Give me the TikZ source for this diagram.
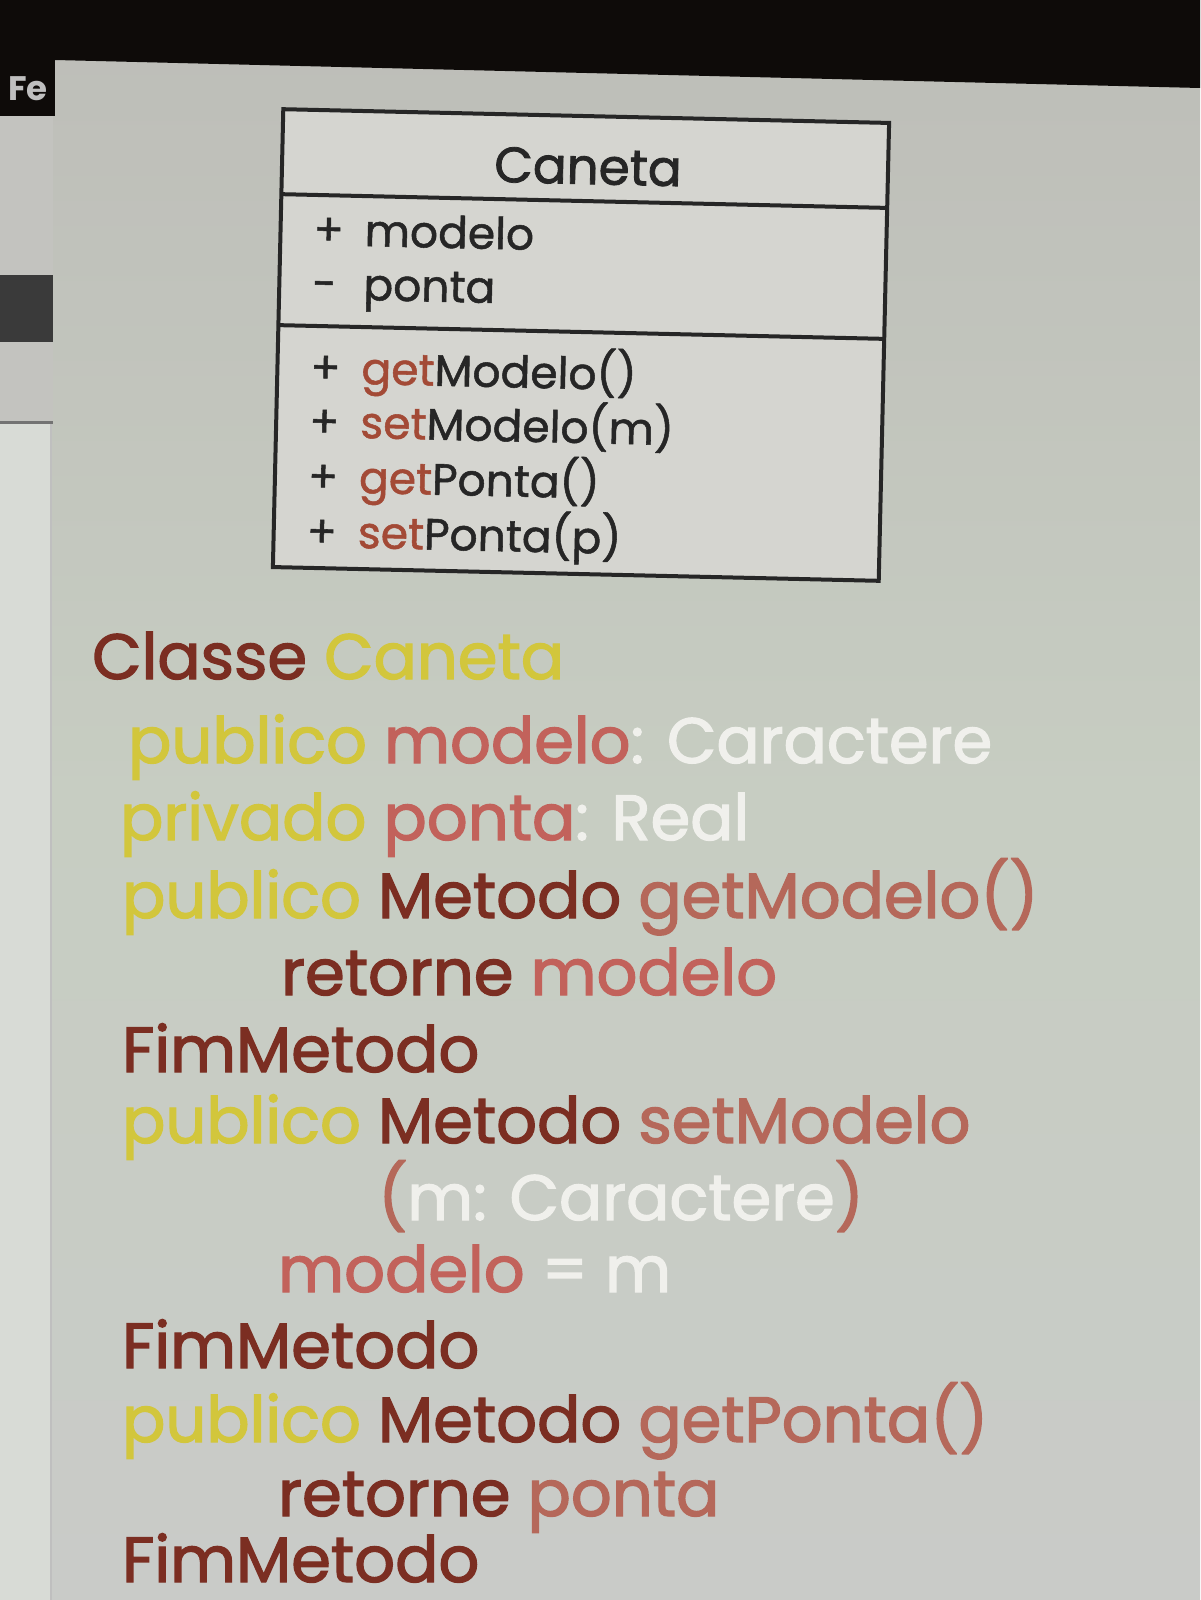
\documentclass[tikz,border=0pt]{standalone}
\usepackage{fontspec}
\setmainfont{Poppins}
\newfontfamily\umlfont{Poppins}[FakeBold=1.2]
\newfontfamily\umltitlefont{Poppins}[FakeBold=1.6]
\newfontfamily\codefont{Poppins}[FakeBold=2]
\definecolor{topband}{HTML}{0E0B09}
\definecolor{scrtop}{HTML}{BDBDB8}
\definecolor{scrmid}{HTML}{C7CDC2}
\definecolor{scrbot}{HTML}{C9CBC8}
\definecolor{umlfill}{HTML}{D5D5D0}
\definecolor{sideA}{HTML}{C3C3BF}
\definecolor{sideB}{HTML}{D8DBD6}
\definecolor{darkbar}{HTML}{3A3A3A}
\definecolor{umldark}{HTML}{262626}
\definecolor{umlred}{HTML}{A34A36}
\definecolor{kw}{HTML}{7B2E22}
\definecolor{yel}{HTML}{D2C63C}
\definecolor{var}{HTML}{C2625B}
\definecolor{meth}{HTML}{B5685A}
\definecolor{wht}{HTML}{F0F0EC}
\tikzset{
  umltxt/.style={anchor=base west, inner sep=0pt, transform shape, text=umldark,
    font=\umlfont\fontsize{44}{44}\selectfont},
  umltitle/.style={anchor=base, inner sep=0pt, transform shape, text=umldark,
    font=\umltitlefont\fontsize{50}{50}\selectfont},
  codetxt/.style={anchor=base west, inner sep=0pt, font=\codefont\fontsize{64}{64}\selectfont},
  umlline/.style={line width=4pt, draw=umldark}
}
\newcommand{\sg}[1]{\makebox[51pt][l]{#1}}
\begin{document}
\begin{tikzpicture}[x=1pt,y=-1pt]
\useasboundingbox (0,0) rectangle (1200,1600);
% screen background
\shade[top color=scrtop, bottom color=scrbot, middle color=scrmid] (0,0) rectangle (1200,1600);
% top dark band
\fill[topband] (0,0) -- (1200,0) -- (1200,88) -- (55,60) -- (0,60) -- cycle;
% sidebar
\fill[sideA] (0,60) rectangle (53,422);
\fill[sideB] (0,424) rectangle (50,1600);
\draw[line width=3pt, draw=black!55] (0,422) -- (53,422);
\draw[line width=2pt, draw=black!25] (51,424) -- (51,1600);
\fill[topband] (0,60) rectangle (55,116);
\node[anchor=base west, inner sep=0pt, text=black!25, font=\fontsize{34}{34}\selectfont\bfseries] (fe) at (8,101) {Fe};
\fill[darkbar] (0,275) rectangle (53,342);
% UML class box
\begin{scope}[rotate around={-1.3:(581,345)}]
  \node[umlline, fill=umlfill, minimum width=606pt, minimum height=458pt, inner sep=0pt, transform shape] (box) at (581,345) {};
  \coordinate (d1l) at (278,201); \coordinate (d1r) at (884,201);
  \coordinate (d2l) at (278,332); \coordinate (d2r) at (884,332);
  \draw[umlline] (d1l) -- (d1r);
  \draw[umlline] (d2l) -- (d2r);
  \node[umltitle] (title) at (584,184) {Caneta};
  \node[umltxt] (a1) at (311,251) {\sg{+}modelo};
  \node[umltxt] (a2) at (311,305) {\sg{-}ponta};
  \node[umltxt] (m1) at (311,389) {\sg{+}\textcolor{umlred}{get}Modelo()};
  \node[umltxt] (m2) at (311,443) {\sg{+}\textcolor{umlred}{set}Modelo(m)};
  \node[umltxt] (m3) at (311,498) {\sg{+}\textcolor{umlred}{get}Ponta()};
  \node[umltxt] (m4) at (311,553) {\sg{+}\textcolor{umlred}{set}Ponta(p)};
\end{scope}
% pseudo-code
\node[codetxt] (c1) at (92,679) {\textcolor{kw}{Classe} \textcolor{yel}{Caneta}};
\node[codetxt] (c2) at (128,763) {\textcolor{yel}{publico} \textcolor{var}{modelo}\textcolor{wht}{: Caractere}};
\node[codetxt] (c3) at (120,840) {\textcolor{yel}{privado} \textcolor{var}{ponta}\textcolor{wht}{: Real}};
\node[codetxt] (c4) at (122,918) {\textcolor{yel}{publico} \textcolor{kw}{Metodo} \textcolor{meth}{getModelo()}};
\node[codetxt] (c5) at (281,995) {\textcolor{kw}{retorne} \textcolor{var}{modelo}};
\node[codetxt] (c6) at (122,1072) {\textcolor{kw}{FimMetodo}};
\node[codetxt] (c7) at (122,1143) {\textcolor{yel}{publico} \textcolor{kw}{Metodo} \textcolor{meth}{setModelo}};
\node[codetxt] (c8) at (378,1220) {\textcolor{meth}{(}\textcolor{wht}{m: Caractere}\textcolor{meth}{)}};
\node[codetxt] (c9) at (278,1292) {\textcolor{var}{modelo} \textcolor{wht}{= m}};
\node[codetxt] (c10) at (122,1368) {\textcolor{kw}{FimMetodo}};
\node[codetxt] (c11) at (122,1442) {\textcolor{yel}{publico} \textcolor{kw}{Metodo} \textcolor{meth}{getPonta()}};
\node[codetxt] (c12) at (278,1516) {\textcolor{kw}{retorne} \textcolor{meth}{ponta}};
\node[codetxt] (c13) at (122,1582) {\textcolor{kw}{FimMetodo}};
\end{tikzpicture}
\end{document}
